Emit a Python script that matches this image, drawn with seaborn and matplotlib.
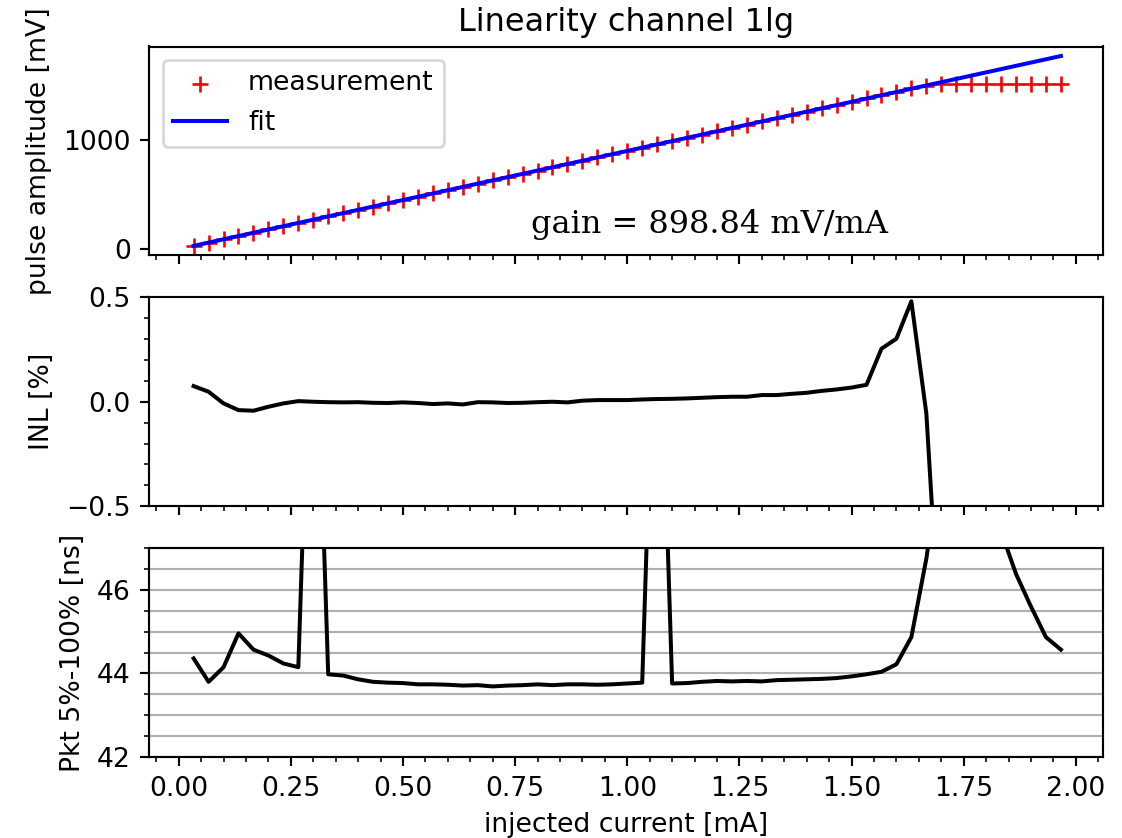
import numpy as np
import matplotlib
matplotlib.use("Agg")
import matplotlib.pyplot as plt
from matplotlib.ticker import MultipleLocator, FormatStrFormatter
import seaborn as sns

# injected current steps [mA]
current_ma = [
    0.0333, 0.0667, 0.1000, 0.1333, 0.1667, 0.2000, 0.2333, 0.2667, 0.3000, 0.3333,
    0.3667, 0.4000, 0.4333, 0.4667, 0.5000, 0.5333, 0.5667, 0.6000, 0.6333, 0.6667,
    0.7000, 0.7333, 0.7667, 0.8000, 0.8333, 0.8667, 0.9000, 0.9333, 0.9667, 1.0000,
    1.0333, 1.0667, 1.1000, 1.1333, 1.1667, 1.2000, 1.2333, 1.2667, 1.3000, 1.3333,
    1.3667, 1.4000, 1.4333, 1.4667, 1.5000, 1.5333, 1.5667, 1.6000, 1.6333, 1.6667,
    1.7000, 1.7333, 1.7667, 1.8000, 1.8333, 1.8667, 1.9000, 1.9333, 1.9667,
]

# measured pulse amplitude [mV]
amplitude_mv = [
    30.0, 59.9, 89.9, 119.8, 149.7, 179.7, 209.7, 239.7, 269.6, 299.6,
    329.6, 359.5, 389.5, 419.4, 449.4, 479.4, 509.3, 539.3, 569.2, 599.2,
    629.2, 659.1, 689.1, 719.0, 749.0, 779.0, 809.0, 839.0, 868.9, 898.9,
    928.9, 958.9, 988.9, 1018.8, 1048.8, 1078.8, 1108.8, 1138.8, 1168.9, 1198.8,
    1228.9, 1258.9, 1289.0, 1319.1, 1349.2, 1379.3, 1411.8, 1442.5, 1475.1, 1497.2,
    1509.0, 1509.0, 1509.0, 1509.0, 1509.0, 1509.0, 1509.0, 1509.0, 1509.0,
]

# linear fit parameters
gain_mv_per_ma = 898.84
offset_mv = 0.0

# integral non-linearity [%]
inl_percent = [
    0.075, 0.048, -0.008, -0.040, -0.043, -0.024, -0.008, 0.003, 0.000, -0.002,
    -0.003, -0.002, -0.005, -0.006, -0.003, -0.006, -0.011, -0.008, -0.013, -0.002,
    -0.003, -0.006, -0.005, -0.002, 0.000, -0.003, 0.005, 0.008, 0.008, 0.008,
    0.011, 0.013, 0.014, 0.016, 0.019, 0.022, 0.024, 0.024, 0.032, 0.032,
    0.038, 0.043, 0.052, 0.059, 0.068, 0.081, 0.254, 0.302, 0.481, -0.056,
    -1.24, -3.15, -4.97, -6.73, -8.43, -10.06, -11.64, -13.17, -14.64,
]

# peaking time 5%-100% [ns]
peaking_ns = [
    44.36, 43.80, 44.15, 44.96, 44.57, 44.43, 44.24, 44.15, 55.0, 43.98,
    43.95, 43.86, 43.80, 43.78, 43.77, 43.74, 43.74, 43.73, 43.71, 43.72,
    43.69, 43.71, 43.72, 43.74, 43.72, 43.74, 43.74, 43.73, 43.74, 43.76,
    43.78, 55.0, 43.76, 43.77, 43.80, 43.82, 43.81, 43.82, 43.81, 43.84,
    43.85, 43.86, 43.87, 43.89, 43.93, 43.98, 44.04, 44.22, 44.87, 46.75,
    49.2, 52.6, 54.1, 51.3, 47.4, 46.38, 45.60, 44.87, 44.57,
]

x = np.array(current_ma)
fit_mv = gain_mv_per_ma * x + offset_mv

W, H, DPI = 1122, 838, 192
fig, (ax1, ax2, ax3) = plt.subplots(
    3, 1, sharex=True, figsize=(W / DPI, H / DPI), dpi=DPI,
    gridspec_kw=dict(left=149.3 / W, right=1103 / W,
                     top=1 - 46.5 / H, bottom=1 - 757 / H, hspace=0.201),
)

# --- amplitude vs injected current ---
sns.scatterplot(x=x, y=amplitude_mv, ax=ax1, marker="+", color="red",
                s=36, linewidth=1.0, label="measurement", legend=False)
sns.lineplot(x=x, y=fit_mv, ax=ax1, color="blue", linewidth=1.5,
             label="fit", errorbar=None, sort=False, legend=False)
ax1.legend(loc="upper left")
ax1.set_yticks([0, 1000])
ax1.set_ylabel("pulse amplitude [mV]")
ax1.set_title("Linearity channel 1lg", fontsize=12)
ax1.text(0.4, 0.105, f"gain = {gain_mv_per_ma:.2f} mV/mA", transform=ax1.transAxes,
         ha="left", va="baseline", family="serif", fontsize=12)

# --- INL ---
sns.lineplot(x=x, y=inl_percent, ax=ax2, color="black", linewidth=1.5,
             errorbar=None, sort=False)
ax2.set_ylim(-0.5, 0.5)
ax2.set_yticks([-0.5, 0.0, 0.5])
ax2.yaxis.set_minor_locator(MultipleLocator(0.1))
ax2.set_ylabel("INL [%]")

# --- peaking time ---
sns.lineplot(x=x, y=peaking_ns, ax=ax3, color="black", linewidth=1.5,
             errorbar=None, sort=False)
ax3.set_ylim(42, 47)
ax3.set_yticks([42, 44, 46])
ax3.yaxis.set_minor_locator(MultipleLocator(0.5))
ax3.grid(True, which="both", axis="y")
ax3.set_axisbelow(True)
ax3.set_ylabel("Pkt 5%-100% [ns]")
ax3.set_xlabel("injected current [mA]")

for ax in (ax1, ax2, ax3):
    ax.xaxis.set_major_locator(MultipleLocator(0.25))
    ax.xaxis.set_minor_locator(MultipleLocator(0.05))
    ax.set_xlim(-0.0655, 2.0605)
ax3.xaxis.set_major_formatter(FormatStrFormatter("%.2f"))

fig.savefig("out.png", dpi=DPI)
